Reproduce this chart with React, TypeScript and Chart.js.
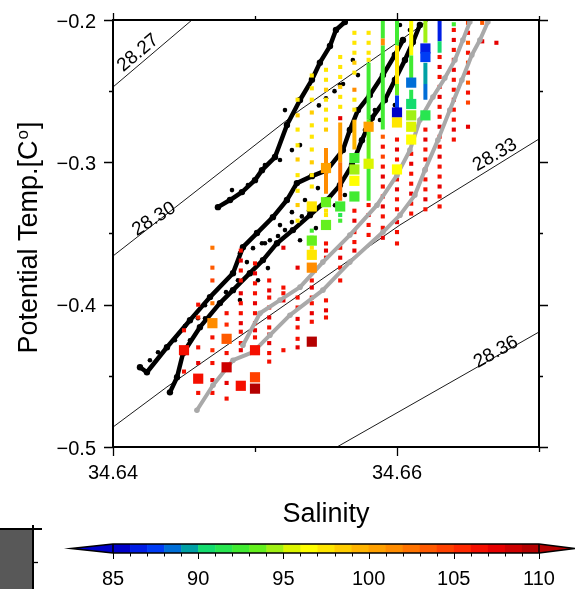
import React, { useEffect, useRef } from 'react';
import { Chart, registerables } from 'chart.js';
Chart.register(...registerables);

const W = 575;
const H = 589;

// axes
const salRange = [34.64, 34.67];
const tempRange = [-0.5, -0.2];
const salTicks = [34.64, 34.65, 34.66, 34.67];
const salTickLabels = ['34.64', '', '34.66', ''];
const tempTicks = [-0.5, -0.45, -0.4, -0.35, -0.3, -0.25, -0.2];
const tempTickLabels = ['−0.5', '', '−0.4', '', '−0.3', '', '−0.2'];

// colour scale
const cbarBounds = [85, 110];
const cbarLabels = [85, 90, 95, 100, 105, 110];
const cbarColors = [
  'rgb(0,0,200)', 'rgb(0,30,230)', 'rgb(0,60,245)', 'rgb(0,110,215)', 'rgb(0,160,165)',
  'rgb(20,220,110)', 'rgb(40,230,80)', 'rgb(65,235,50)', 'rgb(100,240,30)', 'rgb(160,240,20)',
  'rgb(220,245,0)', 'rgb(255,255,0)', 'rgb(255,230,0)', 'rgb(255,205,0)', 'rgb(255,180,0)',
  'rgb(255,160,0)', 'rgb(255,140,0)', 'rgb(255,115,0)', 'rgb(255,90,0)', 'rgb(255,65,0)',
  'rgb(255,40,0)', 'rgb(245,15,0)', 'rgb(230,0,0)', 'rgb(205,0,0)', 'rgb(180,0,0)',
];
const cbarLow = 'rgb(0,0,200)';
const cbarHigh = 'rgb(180,0,0)';

// isopycnals (sigma)
const isoNames = ['28.27', '28.30', '28.33', '28.36'];
const isoLines = [
  [[34.6400, -0.2471], [34.64556, -0.2000]],
  [[34.6400, -0.3658], [34.65317, -0.2632], [34.66007, -0.21546], [34.66225, -0.2000]],
  [[34.6400, -0.4860], [34.6438, -0.4578], [34.66021, -0.3440], [34.6700, -0.2836]],
  [[34.65577, -0.5000], [34.6700, -0.4192]],
];
const isoLabelAt = [[34.64176, -0.2232], [34.64289, -0.3399], [34.6669, -0.2949], [34.66697, -0.4334]];
const isoLabelAngle = [-40, -32, -30, -29];

// black tracks (salinity, temperature)
const blackTrack1 = [
  [34.64401, -0.4616], [34.64451, -0.4510], [34.64493, -0.4341], [34.64612, -0.4158], [34.64753, -0.3989], [34.64845, -0.3898],
  [34.64964, -0.3779], [34.65056, -0.3687], [34.65155, -0.3568], [34.65267, -0.3476], [34.65387, -0.3371],
  [34.65507, -0.3265], [34.65598, -0.3160], [34.65683, -0.3019], [34.65753, -0.2844], [34.65823, -0.2689],
  [34.65915, -0.2562], [34.65985, -0.2422], [34.66056, -0.2281], [34.66112, -0.2155], [34.66161, -0.2035],
];
const blackTrack2 = [
  [34.64190, -0.4440], [34.64239, -0.4475], [34.64380, -0.4299], [34.64542, -0.4109], [34.64683, -0.3947], [34.64845, -0.3779],
  [34.64915, -0.3596], [34.65014, -0.3497], [34.65126, -0.3385], [34.65225, -0.3265], [34.65295, -0.3146],
  [34.65401, -0.3097], [34.65507, -0.3055], [34.65619, -0.2914], [34.65668, -0.2773], [34.65725, -0.2633],
  [34.65809, -0.2527], [34.65901, -0.2387], [34.65985, -0.2246], [34.66042, -0.2141],
];
const blackTrack3 = [
  [34.64739, -0.3315], [34.64824, -0.3265], [34.64908, -0.3209], [34.65000, -0.3125], [34.65049, -0.3055],
  [34.65141, -0.2963], [34.65225, -0.2738], [34.65317, -0.2562], [34.65401, -0.2420], [34.65457, -0.2300],
  [34.65528, -0.2183], [34.65570, -0.2070], [34.65633, -0.2014],
];
const blackDots = [
  [34.64894, -0.3638], [34.64986, -0.3603], [34.65049, -0.3568], [34.65105, -0.3547], [34.65162, -0.3518],
  [34.65211, -0.3476], [34.65260, -0.3420], [34.65330, -0.3380], [34.65380, -0.3340],
  [34.65450, -0.2600], [34.65500, -0.2550], [34.65560, -0.2500], [34.65620, -0.2450],
  [34.64260, -0.4390], [34.64317, -0.4334], [34.64436, -0.4250], [34.64507, -0.4151], [34.64598, -0.4095],
  [34.64648, -0.4004], [34.64796, -0.3912], [34.64880, -0.3828], [34.64943, -0.3701], [34.65070, -0.3568],
  [34.65176, -0.3441], [34.65260, -0.3350], [34.65352, -0.3265], [34.65443, -0.3181], [34.64542, -0.4250],
  [34.64648, -0.4095], [34.64894, -0.3968], [34.65021, -0.3828], [34.65091, -0.3743], [34.65317, -0.3547],
  [34.65429, -0.3462], [34.65563, -0.3301], [34.65633, -0.3230], [34.65774, -0.2773], [34.65844, -0.2633],
  [34.65950, -0.2492], [34.65985, -0.2598], [34.65880, -0.2703], [34.66091, -0.2070], [34.66021, -0.2035],
  [34.65689, -0.2281], [34.65725, -0.2387], [34.65598, -0.2457], [34.64838, -0.3195], [34.64950, -0.3160],
  [34.65070, -0.3019], [34.65176, -0.2984], [34.65260, -0.2914], [34.65317, -0.2879], [34.65211, -0.2633],
];

// grey tracks
const greyTrack1 = [
  [34.64915, -0.4285], [34.65035, -0.4060], [34.65176, -0.3968], [34.65317, -0.3877], [34.65478, -0.3701],
  [34.65668, -0.3511], [34.65859, -0.3301], [34.66000, -0.3090], [34.66091, -0.2914], [34.66161, -0.2703],
  [34.66253, -0.2541], [34.66337, -0.2408], [34.66408, -0.2281], [34.66464, -0.2141], [34.66513, -0.2014],
];
const greyTrack2 = [
  [34.64591, -0.4742], [34.64704, -0.4566], [34.64845, -0.4390], [34.64986, -0.4334], [34.65105, -0.4214],
  [34.65246, -0.4074], [34.65478, -0.3898], [34.65668, -0.3701], [34.65901, -0.3490], [34.66021, -0.3371],
  [34.66126, -0.3230], [34.66196, -0.3055], [34.66288, -0.2844], [34.66372, -0.2633], [34.66457, -0.2422],
  [34.66527, -0.2246], [34.66584, -0.2141], [34.66640, -0.2014],
];

// coarse profiles: salinity of each column, then [temperature, value] samples
const profSal = [
  34.645, 34.646, 34.647, 34.648, 34.649, 34.650, 34.651, 34.652, 34.653, 34.654, 34.655, 34.656,
  34.657, 34.658, 34.659, 34.660, 34.661, 34.662, 34.663, 34.664, 34.665, 34.666, 34.667,
];
const profObs = [
  [[-0.418, 106], [-0.447, 106]],
  [[-0.400, 106], [-0.409, 105], [-0.430, 106], [-0.441, 107], [-0.462, 106]],
  [[-0.360, 102], [-0.374, 103], [-0.383, 104], [-0.399, 102], [-0.423, 106], [-0.432, 105], [-0.441, 106], [-0.453, 107], [-0.462, 106]],
  [[-0.406, 106], [-0.414, 105], [-0.434, 106], [-0.455, 107], [-0.466, 106]],
  [[-0.362, 106], [-0.369, 107], [-0.376, 106], [-0.383, 106], [-0.392, 107], [-0.399, 106], [-0.406, 106], [-0.413, 107], [-0.419, 106], [-0.427, 106], [-0.432, 107]],
  [[-0.371, 106], [-0.378, 107], [-0.385, 106], [-0.392, 106], [-0.399, 107], [-0.406, 106], [-0.413, 106], [-0.418, 107], [-0.423, 106]],
  [[-0.383, 106], [-0.390, 107], [-0.395, 106], [-0.402, 106], [-0.409, 107], [-0.416, 106], [-0.421, 106], [-0.427, 107], [-0.434, 106], [-0.440, 106]],
  [[-0.360, 107], [-0.388, 106], [-0.392, 106], [-0.397, 107], [-0.432, 106]],
  [[-0.256, 97], [-0.267, 98], [-0.277, 97], [-0.288, 97], [-0.298, 98], [-0.309, 97], [-0.320, 97], [-0.330, 98], [-0.341, 97],
   [-0.374, 107], [-0.395, 106], [-0.402, 106], [-0.410, 107], [-0.416, 106], [-0.424, 106], [-0.430, 107]],
  [[-0.239, 97], [-0.248, 97], [-0.256, 97], [-0.265, 98], [-0.274, 97], [-0.282, 97], [-0.291, 97], [-0.300, 98], [-0.309, 97], [-0.317, 97],
   [-0.348, 92], [-0.353, 92], [-0.360, 97], [-0.383, 106], [-0.388, 107], [-0.395, 106], [-0.399, 106], [-0.406, 107], [-0.412, 106]],
  [[-0.235, 97], [-0.242, 97], [-0.249, 98], [-0.256, 97], [-0.263, 97], [-0.270, 97], [-0.277, 98], [-0.334, 97], [-0.337, 97],
   [-0.357, 106], [-0.362, 107], [-0.367, 106], [-0.397, 106], [-0.404, 107], [-0.409, 106]],
  [[-0.226, 97], [-0.233, 97], [-0.240, 97], [-0.247, 98], [-0.254, 97], [-0.261, 97], [-0.269, 107], [-0.337, 91], [-0.341, 92],
   [-0.360, 106], [-0.367, 107], [-0.374, 106], [-0.383, 106]],
  [[-0.209, 97], [-0.216, 97], [-0.223, 97], [-0.230, 98], [-0.237, 97], [-0.249, 101], [-0.256, 97], [-0.263, 97],
   [-0.334, 106], [-0.341, 107], [-0.349, 106], [-0.356, 106], [-0.362, 107]],
  [[-0.209, 97], [-0.216, 97], [-0.223, 97], [-0.228, 97], [-0.330, 106], [-0.337, 107], [-0.344, 106], [-0.351, 106]],
  [[-0.282, 103], [-0.289, 106], [-0.296, 104], [-0.303, 106], [-0.310, 107], [-0.317, 106], [-0.324, 106], [-0.331, 107], [-0.338, 106], [-0.346, 106], [-0.353, 107]],
  [[-0.284, 106], [-0.291, 107], [-0.298, 106], [-0.312, 106], [-0.319, 107], [-0.326, 106], [-0.333, 106], [-0.342, 107], [-0.349, 106], [-0.357, 106]],
  [[-0.294, 106], [-0.301, 107], [-0.308, 106], [-0.315, 106], [-0.322, 107], [-0.329, 106], [-0.336, 106]],
  [[-0.277, 106], [-0.284, 107], [-0.291, 106], [-0.298, 106], [-0.305, 107], [-0.312, 106], [-0.319, 106], [-0.326, 107], [-0.333, 106]],
  [[-0.226, 106], [-0.233, 107], [-0.240, 106], [-0.247, 106], [-0.254, 107], [-0.261, 106], [-0.268, 106], [-0.275, 107], [-0.282, 106],
   [-0.289, 106], [-0.296, 107], [-0.303, 106], [-0.310, 106], [-0.317, 107], [-0.324, 106], [-0.331, 106]],
  [[-0.203, 92], [-0.207, 106], [-0.214, 107], [-0.221, 106], [-0.228, 106], [-0.235, 107], [-0.242, 106], [-0.249, 106], [-0.256, 107],
   [-0.263, 106], [-0.270, 106], [-0.277, 107], [-0.284, 106]],
  [[-0.202, 104], [-0.209, 106], [-0.216, 103], [-0.223, 106], [-0.230, 104], [-0.237, 106], [-0.244, 103], [-0.251, 106], [-0.258, 104], [-0.275, 107]],
  [[-0.202, 103], [-0.215, 107]],
  [[-0.216, 107]],
];

// continuous high-resolution profiles near the top
const hiResSal = [34.655, 34.656, 34.657, 34.658, 34.659, 34.660, 34.661, 34.661, 34.662, 34.662, 34.663];
const hiResObs = [
  [[-0.290, 101], [-0.322, 101]],
  [[-0.272, 100], [-0.300, 102], [-0.327, 101]],
  [[-0.270, 99], [-0.291, 101]],
  [[-0.230, 92], [-0.270, 93], [-0.300, 92], [-0.327, 93]],
  [[-0.200, 92], [-0.213, 101], [-0.218, 92], [-0.277, 93]],
  [[-0.200, 92], [-0.218, 97], [-0.245, 93], [-0.253, 87], [-0.263, 86]],
  [[-0.200, 96], [-0.225, 92], [-0.242, 97]],
  [[-0.249, 91], [-0.256, 90]],
  [[-0.200, 94], [-0.216, 96]],
  [[-0.230, 89], [-0.245, 88], [-0.256, 90]],
  [[-0.200, 86], [-0.215, 90], [-0.223, 89]],
];

// bottle samples: salinity, temperature, value
const bottleSal = [
  34.645, 34.646, 34.647, 34.648, 34.648, 34.649, 34.650, 34.650, 34.650, 34.654, 34.654, 34.654,
  34.654, 34.654, 34.655, 34.655, 34.655, 34.656, 34.657, 34.657, 34.657, 34.657, 34.658, 34.658,
  34.660, 34.660, 34.660, 34.661, 34.661, 34.661, 34.661, 34.661, 34.662, 34.662, 34.662,
];
const bottleTemp = [
  -0.432, -0.452, -0.413, -0.424, -0.444, -0.457, -0.432, -0.451, -0.459, -0.426, -0.331, -0.355,
  -0.365, -0.374, -0.304, -0.328, -0.344, -0.331, -0.297, -0.305, -0.313, -0.324, -0.275, -0.301,
  -0.265, -0.272, -0.305, -0.244, -0.259, -0.267, -0.275, -0.284, -0.220, -0.226, -0.267,
];
const bottleVal = [
  106, 106, 101, 103, 108, 106, 106, 104, 109, 109, 97, 93,
  97, 101, 100, 93, 93, 92, 92, 94, 96, 92, 100, 95,
  85, 97, 96, 88, 90, 94, 95, 96, 86, 87, 91,
];

const FONT = '"Liberation Sans", Arial, Helvetica, sans-serif';
const f = (s: number) => `${s}px ${FONT}`;

function colorFor(v: number): string {
  if (v < cbarBounds[0]) return cbarLow;
  if (v >= cbarBounds[1]) return cbarHigh;
  return cbarColors[Math.floor(v - cbarBounds[0])];
}

const pts = (arr: number[][]) => arr.map(([x, y]) => ({ x, y }));

const decorPlugin = {
  id: 'decor',
  afterDatasetsDraw(chart: any) {
    const ctx: CanvasRenderingContext2D = chart.ctx;
    const xs = chart.scales.x;
    const ys = chart.scales.y;
    const a = chart.chartArea;
    ctx.save();

    // contour labels
    ctx.fillStyle = '#000';
    ctx.font = f(19);
    ctx.textAlign = 'center';
    ctx.textBaseline = 'middle';
    isoNames.forEach((name, i) => {
      const px = xs.getPixelForValue(isoLabelAt[i][0]);
      const py = ys.getPixelForValue(isoLabelAt[i][1]);
      ctx.save();
      ctx.translate(px, py);
      ctx.rotate((isoLabelAngle[i] * Math.PI) / 180);
      ctx.fillText(name, 0, 0);
      ctx.restore();
    });

    // frame
    ctx.strokeStyle = '#000';
    ctx.lineWidth = 2;
    ctx.strokeRect(a.left, a.top, a.right - a.left, a.bottom - a.top);

    // ticks
    ctx.lineWidth = 1.3;
    ctx.beginPath();
    salTicks.forEach((t, i) => {
      const px = Math.round(xs.getPixelForValue(t)) + 0.5;
      const long = salTickLabels[i] !== '';
      const Lb = long ? 9 : 5;
      const Lt = long ? 7 : 4;
      ctx.moveTo(px, a.bottom);
      ctx.lineTo(px, a.bottom + Lb);
      ctx.moveTo(px, a.top);
      ctx.lineTo(px, a.top - Lt);
    });
    tempTicks.forEach((t, i) => {
      const py = Math.round(ys.getPixelForValue(t)) + 0.5;
      const long = tempTickLabels[i] !== '';
      const L = long ? 9 : 4;
      ctx.moveTo(a.left, py);
      ctx.lineTo(a.left - L, py);
      ctx.moveTo(a.right, py);
      ctx.lineTo(a.right + L, py);
    });
    ctx.stroke();

    // tick labels
    ctx.font = f(20);
    ctx.textAlign = 'right';
    ctx.textBaseline = 'middle';
    tempTicks.forEach((t, i) => {
      if (!tempTickLabels[i]) return;
      ctx.fillText(tempTickLabels[i], a.left - 17, ys.getPixelForValue(t) + 2);
    });
    ctx.textAlign = 'center';
    ctx.textBaseline = 'alphabetic';
    salTicks.forEach((t, i) => {
      if (!salTickLabels[i]) return;
      ctx.fillText(salTickLabels[i], xs.getPixelForValue(t), a.bottom + 32);
    });

    // axis titles
    ctx.font = f(27);
    ctx.fillText('Salinity', (a.left + a.right) / 2, 522);

    ctx.save();
    ctx.translate(37, (a.top + a.bottom) / 2 + 5);
    ctx.rotate(-Math.PI / 2);
    ctx.textAlign = 'left';
    const t1 = 'Potential Temp.[C';
    const t2 = 'o';
    const t3 = ']';
    ctx.font = f(27);
    const w1 = ctx.measureText(t1).width;
    const w3 = ctx.measureText(t3).width;
    ctx.font = f(17);
    const w2 = ctx.measureText(t2).width;
    const start = -(w1 + w2 + w3) / 2;
    ctx.font = f(27);
    ctx.fillText(t1, start, 0);
    ctx.font = f(17);
    ctx.fillText(t2, start + w1 + 1, -9);
    ctx.font = f(27);
    ctx.fillText(t3, start + w1 + w2 + 2, 0);
    ctx.restore();

    // colour bar
    const cb = { left: a.left, right: a.right, top: 544, bottom: 553 };
    const span = cbarBounds[1] - cbarBounds[0];
    const cx = (v: number) => cb.left + ((v - cbarBounds[0]) / span) * (cb.right - cb.left);
    cbarColors.forEach((c, i) => {
      ctx.fillStyle = c;
      const x0 = cx(cbarBounds[0] + i);
      const x1 = cx(cbarBounds[0] + i + 1);
      ctx.fillRect(x0, cb.top, x1 - x0 + 0.5, cb.bottom - cb.top);
    });
    const mid = (cb.top + cb.bottom) / 2;
    ctx.fillStyle = cbarLow;
    ctx.beginPath();
    ctx.moveTo(cb.left, cb.top);
    ctx.lineTo(71, mid);
    ctx.lineTo(cb.left, cb.bottom);
    ctx.closePath();
    ctx.fill();
    ctx.fillStyle = cbarHigh;
    ctx.beginPath();
    ctx.moveTo(cb.right, cb.top);
    ctx.lineTo(W, mid);
    ctx.lineTo(cb.right, cb.bottom);
    ctx.closePath();
    ctx.fill();
    ctx.strokeStyle = '#000';
    ctx.lineWidth = 1.5;
    ctx.beginPath();
    ctx.moveTo(cb.left, cb.top);
    ctx.lineTo(71, mid);
    ctx.lineTo(cb.left, cb.bottom);
    ctx.lineTo(cb.right, cb.bottom);
    ctx.lineTo(W, mid);
    ctx.lineTo(cb.right, cb.top);
    ctx.closePath();
    ctx.stroke();
    ctx.beginPath();
    ctx.moveTo(cb.left, cb.top);
    ctx.lineTo(cb.left, cb.bottom);
    ctx.moveTo(cb.right, cb.top);
    ctx.lineTo(cb.right, cb.bottom);
    ctx.stroke();
    ctx.lineWidth = 1;
    ctx.beginPath();
    for (let v = cbarBounds[0]; v <= cbarBounds[1]; v++) {
      const x = Math.round(cx(v)) + 0.5;
      const major = cbarLabels.includes(v);
      ctx.moveTo(x, cb.bottom);
      ctx.lineTo(x, cb.bottom + (major ? 6 : 3.5));
    }
    ctx.stroke();
    ctx.fillStyle = '#000';
    ctx.font = f(20);
    ctx.textAlign = 'center';
    ctx.textBaseline = 'alphabetic';
    cbarLabels.forEach((v) => ctx.fillText(String(v), cx(v), 585));

    // neighbouring panel fragment
    ctx.fillStyle = '#585858';
    ctx.fillRect(0, 529, 33, H - 529);
    ctx.strokeStyle = '#000';
    ctx.lineWidth = 2;
    ctx.beginPath();
    ctx.moveTo(0, 529);
    ctx.lineTo(42, 529);
    ctx.moveTo(33, 525);
    ctx.lineTo(33, H);
    ctx.stroke();
    ctx.lineWidth = 1.3;
    ctx.beginPath();
    ctx.moveTo(33, 562.5);
    ctx.lineTo(38, 562.5);
    ctx.stroke();

    ctx.restore();
  },
};

export default function App() {
  const ref = useRef<HTMLCanvasElement | null>(null);
  useEffect(() => {
    if (!ref.current) return;
    const datasets: any[] = [];
    isoLines.forEach((line) => {
      datasets.push({
        data: pts(line), showLine: true, borderColor: '#000', borderWidth: 0.9,
        pointRadius: 0, order: 6,
      });
    });
    [blackTrack1, blackTrack2, blackTrack3].forEach((tr) => {
      datasets.push({
        data: pts(tr), showLine: true, borderColor: '#000', borderWidth: 4.5,
        borderJoinStyle: 'round', borderCapStyle: 'round', pointRadius: 3.2,
        pointBackgroundColor: '#000', pointBorderWidth: 0, order: 5,
      });
    });
    datasets.push({
      data: pts(blackDots), pointRadius: 2.3, backgroundColor: '#000', borderWidth: 0, order: 5,
    });
    const small: any[] = [];
    const smallCol: string[] = [];
    profSal.forEach((s, i) => {
      profObs[i].forEach(([t, v]) => {
        small.push({ x: s, y: t });
        smallCol.push(colorFor(v));
      });
    });
    datasets.push({
      data: small, pointStyle: 'rect', pointRadius: 2.9, backgroundColor: smallCol,
      borderWidth: 0, order: 4,
    });
    [greyTrack1, greyTrack2].forEach((tr) => {
      datasets.push({
        data: pts(tr), showLine: true, borderColor: '#a9a9a9', borderWidth: 4,
        borderJoinStyle: 'round', borderCapStyle: 'round', pointRadius: 2.8,
        pointBackgroundColor: '#a9a9a9', pointBorderWidth: 0, order: 3,
      });
    });
    hiResSal.forEach((s, i) => {
      const prof = hiResObs[i];
      datasets.push({
        data: prof.map(([t]) => ({ x: s, y: t })), showLine: true, borderWidth: 4,
        borderColor: colorFor(prof[0][1]), pointRadius: 0, order: 2,
        segment: { borderColor: (c: any) => colorFor(prof[c.p0DataIndex][1]) },
      });
    });
    datasets.push({
      data: bottleSal.map((s, i) => ({ x: s, y: bottleTemp[i] })),
      pointStyle: 'rect', pointRadius: 7.2, borderWidth: 0,
      backgroundColor: bottleVal.map((v) => colorFor(v)), order: 1,
    });

    const chart = new Chart(ref.current, {
      type: 'scatter',
      data: { datasets },
      options: {
        animation: false,
        responsive: false,
        events: [],
        layout: { padding: { left: 113, right: W - 539, top: 20, bottom: H - 447 } },
        scales: {
          x: { type: 'linear', min: salRange[0], max: salRange[1], display: false },
          y: { type: 'linear', min: tempRange[0], max: tempRange[1], display: false },
        },
        plugins: { legend: { display: false }, tooltip: { enabled: false } },
      },
      plugins: [decorPlugin],
    } as any);
    return () => chart.destroy();
  }, []);
  return (
    <div style={{ position: 'fixed', left: 0, top: 0, width: W, height: H, background: '#fff' }}>
      <canvas ref={ref} width={W} height={H} style={{ display: 'block' }} />
    </div>
  );
}
